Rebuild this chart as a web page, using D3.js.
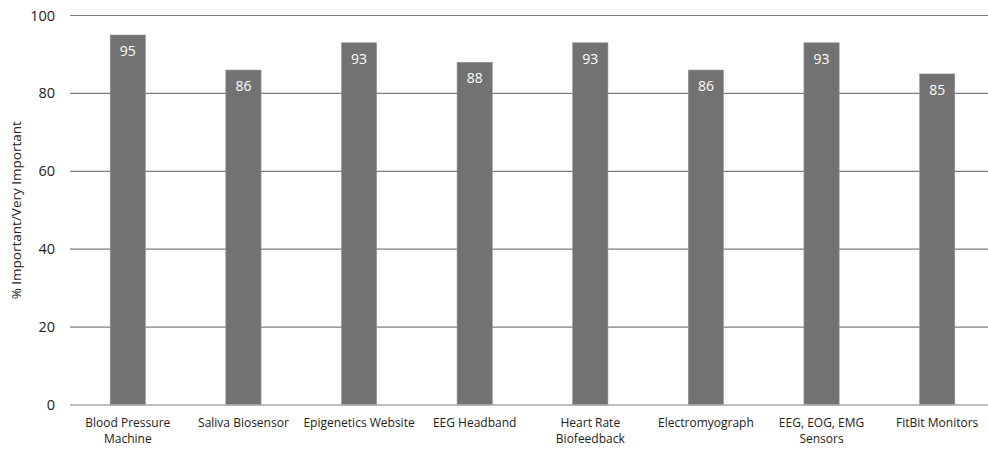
<!DOCTYPE html>
<html>
<head>
<meta charset="utf-8">
<script src="https://cdn.jsdelivr.net/npm/d3@7"></script>
<style>
  html, body { margin: 0; padding: 0; background: #fff; }
  svg { display: block; font-family: "Open Sans", "Noto Sans", sans-serif; }
</style>
</head>
<body>
<svg id="chart" width="988" height="451"></svg>
<script>
// Share of respondents rating each tool Important / Very Important
const categories = [
  ["Blood Pressure", "Machine"],
  ["Saliva Biosensor"],
  ["Epigenetics Website"],
  ["EEG Headband"],
  ["Heart Rate", "Biofeedback"],
  ["Electromyograph"],
  ["EEG, EOG, EMG", "Sensors"],
  ["FitBit Monitors"]
];
const values = [95, 86, 93, 88, 93, 86, 93, 85];
const yTicks = [0, 20, 40, 60, 80, 100];
const yTitle = "% Important/Very Important";

const svg = d3.select("#chart");
const keys = categories.map(c => c.join(" "));

const x = d3.scaleBand().domain(keys).range([70, 995]).paddingInner(0.695).paddingOuter(0.3475);
const y = d3.scaleLinear().domain([0, 100]).range([405, 15.5]);

// horizontal gridlines
svg.append("g").selectAll("line").data(yTicks.filter(t => t > 0)).join("line")
  .attr("x1", 70).attr("x2", 995)
  .attr("y1", d => y(d)).attr("y2", d => y(d))
  .attr("stroke", "#7c7c7c").attr("stroke-width", 1.2);

// y tick labels
svg.append("g").selectAll("text").data(yTicks).join("text")
  .attr("x", 55).attr("y", d => y(d)).attr("dy", "0.35em")
  .attr("text-anchor", "end").attr("font-size", 14.5).attr("fill", "#222")
  .text(d => d);

// bars
svg.append("g").selectAll("rect").data(values).join("rect")
  .attr("x", (d, i) => x(keys[i])).attr("width", x.bandwidth())
  .attr("y", d => y(d)).attr("height", d => y(0) - y(d))
  .attr("fill", "#727272").attr("stroke", "#9a9a9a").attr("stroke-width", 0.6);

// value labels inside bar tops
svg.append("g").selectAll("text").data(values).join("text")
  .attr("x", (d, i) => x(keys[i]) + x.bandwidth() / 2)
  .attr("y", d => y(d) + 16).attr("dy", "0.35em")
  .attr("text-anchor", "middle").attr("font-size", 14).attr("fill", "#fff")
  .text(d => d);

// baseline axis
svg.append("line").attr("x1", 70).attr("x2", 995)
  .attr("y1", y(0)).attr("y2", y(0))
  .attr("stroke", "#a8a8a8").attr("stroke-width", 1.4);

// category labels
const xl = svg.append("g").selectAll("text").data(categories).join("text")
  .attr("x", (d, i) => x(keys[i]) + x.bandwidth() / 2)
  .attr("y", 427)
  .attr("text-anchor", "middle").attr("font-size", 12).attr("fill", "#222");
xl.selectAll("tspan").data(d => d).join("tspan")
  .attr("x", function() { return this.parentNode.getAttribute("x"); })
  .attr("dy", (d, i) => i === 0 ? 0 : 16)
  .text(d => d);

// y axis title
svg.append("text")
  .attr("transform", `translate(21,${y(50)}) rotate(-90)`)
  .attr("text-anchor", "middle").attr("font-size", 13.5).attr("fill", "#222")
  .text(yTitle);
</script>
</body>
</html>
